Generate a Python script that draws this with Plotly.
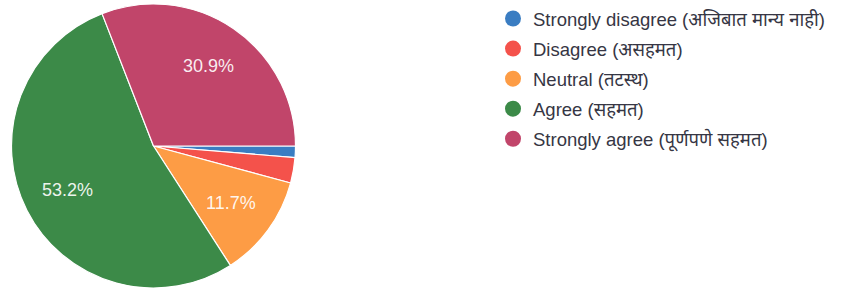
import math
import plotly.graph_objects as go

labels = ["Strongly disagree (अजिबात मान्य नाही)", "Disagree (असहमत)", "Neutral (तटस्थ)",
          "Agree (सहमत)", "Strongly agree (पूर्णपणे सहमत)"]
values = [1.3, 2.9, 11.7, 53.2, 30.9]
colors = ["#3a7dc2", "#f4524b", "#fd9c45", "#3c8a48", "#c1456a"]
show_label = [False, False, True, True, True]

W, H = 853, 291
cx, cy, R = 153.5, 146.0, 142.0
start_deg = 90  # first slice starts at 3 o'clock, clockwise

fig = go.Figure()
fig.add_trace(go.Pie(
    labels=labels, values=values, sort=False, direction="clockwise", rotation=start_deg,
    marker=dict(colors=colors, line=dict(color="white", width=1.2)),
    textinfo="none", showlegend=False, hoverinfo="label+percent",
    domain=dict(x=[(cx - R) / W, (cx + R) / W], y=[1 - (cy + R) / H, 1 - (cy - R) / H]),
))
for lab, col in zip(labels, colors):
    fig.add_trace(go.Scatter(x=[None], y=[None], mode="markers", name=lab, legendgroup=lab,
                             marker=dict(symbol="circle", size=19, color=col),
                             showlegend=True))

# percent labels placed at 0.68 R along each slice's mid-angle (computed from the data)
total = sum(values)
cum = 0.0
for v, show in zip(values, show_label):
    mid = (cum + v / 2) / total
    cum += v
    if not show:
        continue
    ang = math.radians(start_deg + 360 * mid)  # clockwise from 12 o'clock
    px = cx + 0.68 * R * math.sin(ang)
    py = cy - 0.68 * R * math.cos(ang)
    fig.add_annotation(x=px / W, y=1 - py / H, xref="paper", yref="paper",
                       xanchor="center", yanchor="middle",
                       text=f"{100 * v / total:.1f}%", showarrow=False,
                       font=dict(color="rgba(255,255,255,0.92)", size=18,
                                 family="Liberation Sans, Arial"))

fig.update_layout(
    width=W, height=H, margin=dict(l=0, r=0, t=0, b=0),
    paper_bgcolor="white", plot_bgcolor="white",
    xaxis=dict(visible=False), yaxis=dict(visible=False),
    legend=dict(x=493 / W, y=1, xanchor="left", yanchor="top",
                font=dict(size=18.5, color="#363644", family="Liberation Sans, Arial, Noto Sans"),
                itemwidth=30, tracegroupgap=3, bgcolor="rgba(0,0,0,0)"),
)
fig.write_html("out.html", config={"displayModeBar": False},
               post_script="document.body.style.margin='0';")
